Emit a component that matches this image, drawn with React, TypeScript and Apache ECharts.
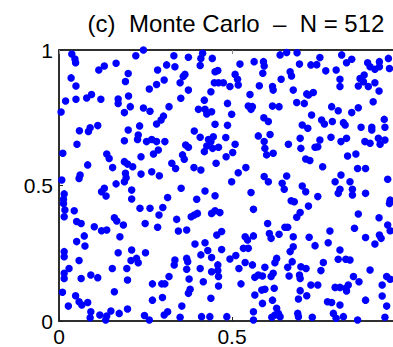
import React, { useEffect, useRef } from "react";
import * as echarts from "echarts";

const titleText = "(c)  Monte Carlo  \u2013  N = 512";
const xTicks = [0, 0.5];
const yTicks = [0, 0.5, 1];

const topLeft: number[][] = [
  [0.037,0.985],[0.046,0.967],[0.048,0.953],[0.244,1.000],[0.222,0.979],[0.165,0.951],[0.131,0.941],[0.115,0.926],[0.200,0.913],[0.192,0.884],[0.035,0.897],[0.049,0.867],[0.094,0.836],[0.080,0.823],[0.049,0.818],[0.019,0.812],[0.121,0.818],[0.201,0.830],[0.171,0.819],[0.171,0.803],[0.006,0.771],[0.189,0.769],[0.206,0.791],[0.244,0.786],[0.263,0.774],[0.302,0.756],[0.295,0.742],[0.282,0.727],[0.112,0.721],[0.090,0.713],[0.085,0.699],[0.059,0.702],[0.233,0.720],[0.200,0.705],[0.229,0.686],[0.227,0.670],[0.189,0.665],[0.253,0.662],[0.268,0.670],[0.282,0.662],[0.306,0.662],[0.052,0.652],[0.287,0.631],[0.273,0.616],[0.011,0.619],[0.138,0.616],[0.145,0.600],[0.237,0.606],[0.189,0.588],[0.198,0.579],[0.213,0.569],[0.083,0.576],[0.155,0.566],[0.192,0.545],[0.194,0.529],[0.189,0.514],[0.237,0.542],[0.268,0.551],[0.290,0.536],[0.061,0.539],[0.058,0.526],[0.008,0.520],[0.311,0.945],[0.285,0.926],[0.304,0.889],[0.282,0.873],[0.261,0.856]
];

const topMiddle: number[][] = [
  [0.332,0.979],[0.374,0.973],[0.410,0.969],[0.415,0.988],[0.443,0.969],[0.408,0.943],[0.335,0.938],[0.523,0.948],[0.564,0.957],[0.591,0.957],[0.593,0.941],[0.589,0.914],[0.451,0.920],[0.459,0.924],[0.364,0.910],[0.359,0.902],[0.350,0.879],[0.509,0.910],[0.516,0.892],[0.518,0.871],[0.494,0.865],[0.475,0.879],[0.461,0.879],[0.449,0.879],[0.579,0.868],[0.617,0.865],[0.619,0.852],[0.374,0.852],[0.439,0.846],[0.552,0.836],[0.352,0.822],[0.420,0.815],[0.487,0.803],[0.547,0.793],[0.559,0.791],[0.555,0.781],[0.617,0.793],[0.318,0.791],[0.403,0.781],[0.422,0.781],[0.427,0.764],[0.441,0.772],[0.499,0.763],[0.592,0.750],[0.605,0.736],[0.451,0.726],[0.487,0.722],[0.391,0.701],[0.408,0.678],[0.576,0.683],[0.610,0.688],[0.482,0.677],[0.432,0.670],[0.446,0.680],[0.439,0.662],[0.427,0.646],[0.420,0.625],[0.444,0.637],[0.461,0.641],[0.509,0.652],[0.593,0.662],[0.595,0.637],[0.600,0.613],[0.619,0.619],[0.502,0.622],[0.483,0.606],[0.357,0.613],[0.362,0.597],[0.366,0.649],[0.374,0.641],[0.326,0.582],[0.337,0.563],[0.390,0.566],[0.410,0.557],[0.454,0.582],[0.540,0.566],[0.518,0.547],[0.593,0.533],[0.605,0.514],[0.499,0.514]
];

const topRight: number[][] = [
  [0.639,0.982],[0.658,0.991],[0.688,0.990],[0.695,0.948],[0.728,0.945],[0.745,0.946],[0.754,0.972],[0.771,0.923],[0.801,0.926],[0.817,0.982],[0.831,0.953],[0.846,0.966],[0.892,0.953],[0.899,0.938],[0.913,0.929],[0.926,0.957],[0.926,0.938],[0.952,0.969],[0.955,0.932],[0.668,0.920],[0.672,0.904],[0.642,0.892],[0.677,0.852],[0.716,0.838],[0.735,0.843],[0.721,0.834],[0.812,0.892],[0.812,0.865],[0.870,0.895],[0.882,0.908],[0.880,0.883],[0.894,0.865],[0.913,0.879],[0.925,0.849],[0.865,0.867],[0.687,0.806],[0.709,0.803],[0.636,0.791],[0.908,0.809],[0.788,0.791],[0.807,0.776],[0.846,0.769],[0.865,0.787],[0.730,0.760],[0.759,0.742],[0.767,0.727],[0.790,0.736],[0.822,0.732],[0.827,0.723],[0.873,0.715],[0.904,0.715],[0.904,0.705],[0.940,0.744],[0.942,0.715],[0.703,0.723],[0.719,0.711],[0.697,0.674],[0.663,0.652],[0.699,0.637],[0.740,0.641],[0.754,0.668],[0.748,0.643],[0.786,0.678],[0.815,0.662],[0.831,0.674],[0.884,0.662],[0.899,0.656],[0.923,0.674],[0.928,0.652],[0.942,0.668],[0.834,0.609],[0.858,0.616],[0.713,0.598],[0.725,0.592],[0.762,0.569],[0.863,0.563],[0.886,0.563],[0.658,0.535],[0.798,0.514],[0.815,0.539],[0.841,0.514],[0.950,0.523]
];

const bottomLeft: number[][] = [
  [0.165,0.506],[0.123,0.477],[0.136,0.461],[0.131,0.490],[0.210,0.483],[0.210,0.450],[0.015,0.469],[0.013,0.449],[0.013,0.434],[0.017,0.410],[0.015,0.385],[0.044,0.407],[0.234,0.416],[0.263,0.416],[0.300,0.419],[0.289,0.391],[0.051,0.367],[0.064,0.360],[0.102,0.348],[0.123,0.333],[0.138,0.336],[0.160,0.381],[0.167,0.369],[0.186,0.354],[0.249,0.360],[0.285,0.346],[0.176,0.311],[0.073,0.314],[0.051,0.293],[0.075,0.277],[0.015,0.256],[0.015,0.237],[0.058,0.223],[0.171,0.252],[0.210,0.262],[0.250,0.252],[0.208,0.223],[0.224,0.231],[0.229,0.215],[0.154,0.194],[0.196,0.194],[0.029,0.194],[0.015,0.176],[0.015,0.157],[0.092,0.170],[0.112,0.160],[0.064,0.157],[0.198,0.151],[0.270,0.137],[0.297,0.137],[0.306,0.137],[0.160,0.108],[0.010,0.106],[0.048,0.093],[0.058,0.071],[0.066,0.059],[0.083,0.068],[0.027,0.055],[0.270,0.077],[0.299,0.087],[0.092,0.034],[0.090,0.012],[0.118,0.022],[0.138,0.018],[0.135,0.004],[0.150,0.037],[0.174,0.028],[0.198,0.044],[0.247,0.020],[0.261,0.004],[0.304,0.022]
];

const bottomMiddle: number[][] = [
  [0.353,0.490],[0.314,0.456],[0.422,0.480],[0.398,0.449],[0.451,0.462],[0.555,0.474],[0.400,0.397],[0.391,0.391],[0.382,0.385],[0.441,0.397],[0.451,0.407],[0.465,0.400],[0.562,0.412],[0.340,0.375],[0.345,0.332],[0.369,0.336],[0.603,0.360],[0.608,0.323],[0.613,0.305],[0.456,0.317],[0.470,0.330],[0.538,0.311],[0.545,0.299],[0.562,0.314],[0.547,0.268],[0.533,0.268],[0.393,0.284],[0.422,0.289],[0.430,0.260],[0.410,0.244],[0.441,0.234],[0.470,0.264],[0.494,0.229],[0.511,0.242],[0.335,0.225],[0.333,0.207],[0.369,0.231],[0.372,0.219],[0.369,0.191],[0.408,0.194],[0.441,0.182],[0.459,0.207],[0.459,0.186],[0.461,0.164],[0.461,0.129],[0.538,0.216],[0.559,0.207],[0.520,0.194],[0.595,0.198],[0.624,0.215],[0.629,0.231],[0.376,0.155],[0.417,0.145],[0.318,0.164],[0.526,0.137],[0.566,0.161],[0.576,0.170],[0.588,0.166],[0.613,0.164],[0.619,0.176],[0.379,0.117],[0.374,0.102],[0.566,0.096],[0.586,0.114],[0.595,0.117],[0.622,0.121],[0.439,0.084],[0.617,0.077],[0.588,0.065],[0.355,0.055],[0.314,0.034],[0.350,0.014],[0.412,0.016],[0.436,0.016],[0.485,0.016],[0.562,0.034],[0.562,0.004],[0.615,0.014],[0.624,0.022]
];

const bottomRight: number[][] = [
  [0.645,0.508],[0.651,0.486],[0.703,0.498],[0.713,0.477],[0.748,0.459],[0.812,0.486],[0.807,0.471],[0.848,0.486],[0.848,0.465],[0.886,0.471],[0.957,0.446],[0.955,0.434],[0.671,0.444],[0.680,0.440],[0.721,0.424],[0.697,0.400],[0.687,0.383],[0.865,0.395],[0.925,0.381],[0.653,0.346],[0.661,0.346],[0.636,0.320],[0.677,0.311],[0.723,0.309],[0.783,0.332],[0.854,0.342],[0.886,0.308],[0.926,0.317],[0.931,0.305],[0.913,0.284],[0.950,0.354],[0.957,0.333],[0.740,0.278],[0.778,0.289],[0.812,0.262],[0.677,0.274],[0.668,0.256],[0.674,0.219],[0.807,0.228],[0.829,0.228],[0.841,0.225],[0.764,0.216],[0.661,0.198],[0.699,0.200],[0.714,0.194],[0.757,0.186],[0.899,0.188],[0.665,0.166],[0.695,0.170],[0.697,0.157],[0.851,0.164],[0.867,0.145],[0.947,0.164],[0.957,0.154],[0.934,0.133],[0.728,0.133],[0.748,0.133],[0.798,0.124],[0.812,0.124],[0.829,0.121],[0.836,0.133],[0.831,0.111],[0.697,0.112],[0.716,0.093],[0.692,0.081],[0.934,0.092],[0.886,0.077],[0.776,0.071],[0.788,0.068],[0.812,0.059],[0.947,0.055],[0.629,0.047],[0.634,0.028],[0.639,0.016],[0.690,0.028],[0.692,0.016],[0.732,0.014],[0.793,0.028],[0.801,0.010],[0.822,0.016],[0.863,0.004],[0.942,0.014]
];

const FONT = "'Liberation Sans', Arial, Helvetica, sans-serif";

export default function App() {
  const ref = useRef<HTMLDivElement>(null);
  useEffect(() => {
    document.body.style.margin = "0";
    if (!ref.current) return;
    const chart = echarts.init(ref.current, undefined, { renderer: "svg" });
    const points = [...topLeft, ...topMiddle, ...topRight, ...bottomLeft, ...bottomMiddle, ...bottomRight];
    chart.setOption({
      animation: false,
      backgroundColor: "#fff",
      title: {
        text: titleText,
        left: 231,
        top: 6,
        textAlign: "center",
        textStyle: { fontFamily: FONT, fontSize: 24, fontWeight: "normal", color: "#000" },
      },
      grid: {
        left: 59,
        right: -12,
        top: 50,
        bottom: 26,
        containLabel: false,
        outerBoundsMode: "none",
        show: true,
        borderColor: "#222",
        borderWidth: 1.5,
        backgroundColor: "transparent",
      },
      xAxis: [
        {
          type: "value",
          min: 0,
          max: 1,
          interval: 0.5,
          axisLine: { show: true, lineStyle: { color: "#222", width: 1.5 } },
          axisTick: { show: true, inside: true, length: 4, lineStyle: { color: "#222" } },
          axisLabel: {
            fontFamily: FONT,
            fontSize: 21,
            color: "#000",
            margin: 5,
            formatter: (v: number) => (xTicks.includes(v) ? String(v) : ""),
          },
          splitLine: { show: false },
        },
        {
          type: "value",
          position: "top",
          min: 0,
          max: 1,
          interval: 0.5,
          axisLine: { show: true, lineStyle: { color: "#222", width: 1.5 } },
          axisTick: { show: true, inside: true, length: 4, lineStyle: { color: "#888" } },
          axisLabel: { show: false },
          splitLine: { show: false },
        },
      ],
      yAxis: {
        type: "value",
        min: 0,
        max: 1,
        interval: 0.5,
        axisLine: { show: true, lineStyle: { color: "#222", width: 1.5 } },
        axisTick: { show: true, inside: true, length: 4, lineStyle: { color: "#222" } },
        axisLabel: {
          fontFamily: FONT,
          fontSize: 21,
          color: "#000",
          margin: 6,
          formatter: (v: number) => (yTicks.includes(v) ? String(v) : ""),
        },
        splitLine: { show: false },
      },
      series: [
        {
          type: "scatter",
          xAxisIndex: 0,
          data: points,
          symbol: "circle",
          symbolSize: 7.5,
          clip: false,
          itemStyle: { color: "#0000ff", opacity: 1 },
        },
      ],
    });
    return () => chart.dispose();
  }, []);
  return <div ref={ref} style={{ width: 393, height: 347 }} />;
}
